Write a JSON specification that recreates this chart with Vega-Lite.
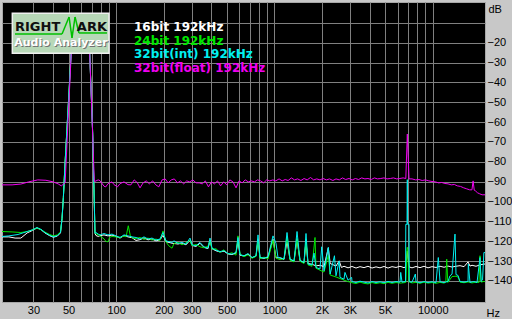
{
 "$schema": "https://vega.github.io/schema/vega-lite/v6.json",
 "width": 483, "height": 300,
 "autosize": {"type": "none"},
 "padding": {"left": 2, "top": 2, "right": 27, "bottom": 17},
 "background": "#c8c8c8",
 "config": {"view": {"fill": "#000000", "stroke": "#a8a8a8", "strokeWidth": 1}, "font": "Liberation Sans",
  "axis": {"grid": true, "gridColor": "#808080", "gridOpacity": 1, "gridWidth": 1, "ticks": false, "domain": false, "labelPadding": 2, "labelFontSize": 11, "labelColor": "#000000", "labelFont": "Liberation Sans", "labelOverlap": false, "labelFlush": false, "titleFontWeight": "normal", "titleFontSize": 11, "titleFont": "Liberation Sans", "titleColor": "#000000"},
  "axisY": {"titleAngle": 0, "titleX": 3, "titleY": 10, "titleAlign": "left", "titleBaseline": "alphabetic", "labelBaseline": "middle"},
  "axisX": {"titleX": 484, "titleY": 14, "titleAlign": "left", "titleBaseline": "alphabetic"}},
 "datasets": {
  "w": [{"f":19,"d":-117.8},{"f":21,"d":-117.8},{"f":23,"d":-118.4},{"f":25,"d":-118.4},{"f":27.4,"d":-115.8},{"f":29.5,"d":-114.6},{"f":31.6,"d":-113.3},{"f":33.5,"d":-114.2},{"f":35.5,"d":-115.8},{"f":38,"d":-117.2},{"f":40.1,"d":-118},{"f":42.5,"d":-117.4},{"f":44.5,"d":-115.8},{"f":45.5,"d":-108.6},{"f":46.4,"d":-98},{"f":47.6,"d":-80},{"f":52.4,"d":-20},{"f":55,"d":-10},{"f":58,"d":-7},{"f":62,"d":-7},{"f":65,"d":-10},{"f":67.7,"d":-20},{"f":71.1,"d":-66},{"f":73.5,"d":-116},{"f":74.6,"d":-117.1},{"f":77,"d":-117.6},{"f":79.1,"d":-117.2},{"f":83.8,"d":-116.8},{"f":88.8,"d":-117.3},{"f":94.1,"d":-116.9},{"f":99.8,"d":-117.6},{"f":105.8,"d":-118.4},{"f":112.1,"d":-117.2},{"f":118.8,"d":-117.8},{"f":126,"d":-118.2},{"f":133.5,"d":-119.6},{"f":141.5,"d":-119.2},{"f":149.9,"d":-118.3},{"f":159,"d":-119.3},{"f":168.4,"d":-118.9},{"f":178.5,"d":-119.8},{"f":189.3,"d":-119.3},{"f":197.7,"d":-117},{"f":206.5,"d":-120.2},{"f":225.4,"d":-121},{"f":246,"d":-121.4},{"f":260.6,"d":-120.9},{"f":276.3,"d":-121.8},{"f":292.8,"d":-119.5},{"f":301.5,"d":-122.1},{"f":319.6,"d":-122.6},{"f":338.6,"d":-121},{"f":358.9,"d":-123.1},{"f":380.4,"d":-123.7},{"f":391.8,"d":-119.8},{"f":403.2,"d":-123.8},{"f":427.4,"d":-124.8},{"f":453,"d":-125.4},{"f":480.2,"d":-125},{"f":509,"d":-126.4},{"f":539.5,"d":-126.7},{"f":571.9,"d":-125.9},{"f":588.6,"d":-120},{"f":606.1,"d":-127},{"f":642.4,"d":-127.5},{"f":681,"d":-126.5},{"f":721.8,"d":-128.3},{"f":765.1,"d":-127.5},{"f":787.6,"d":-119.5},{"f":810.7,"d":-128.3},{"f":859.4,"d":-128.6},{"f":910.9,"d":-128},{"f":979.6,"d":-119},{"f":1023,"d":-128.3},{"f":1085,"d":-128.4},{"f":1150,"d":-129.1},{"f":1201,"d":-120},{"f":1255,"d":-129.2},{"f":1330,"d":-130},{"f":1389,"d":-119},{"f":1451,"d":-129.8},{"f":1538,"d":-130.8},{"f":1583,"d":-120},{"f":1630,"d":-131.2},{"f":1728,"d":-131.6},{"f":1831,"d":-132.4},{"f":1940,"d":-132.1},{"f":2057,"d":-132.8},{"f":2190,"d":-123.3},{"f":2250,"d":-131.2},{"f":2449,"d":-132.5},{"f":2565,"d":-129.9},{"f":2650,"d":-133.2},{"f":2752,"d":-132.6},{"f":2918,"d":-133.4},{"f":3091,"d":-132.7},{"f":3277,"d":-133.5},{"f":3473,"d":-132.8},{"f":3682,"d":-133.3},{"f":3902,"d":-132.6},{"f":4136,"d":-133.5},{"f":4384,"d":-132.9},{"f":4646,"d":-133.4},{"f":4924,"d":-132.7},{"f":5221,"d":-133.5},{"f":5533,"d":-132.8},{"f":5864,"d":-133.2},{"f":6215,"d":-132.6},{"f":6587,"d":-133.3},{"f":6762,"d":-132.8},{"f":6912,"d":-125},{"f":7085,"d":-132.9},{"f":7401,"d":-133.4},{"f":7845,"d":-132.7},{"f":8316,"d":-133.3},{"f":8814,"d":-132.6},{"f":9341,"d":-133.4},{"f":9902,"d":-132.8},{"f":10496,"d":-133.2},{"f":11126,"d":-132.6},{"f":11790,"d":-133.1},{"f":12496,"d":-132.5},{"f":13245,"d":-133},{"f":14037,"d":-132.6},{"f":14880,"d":-132.3},{"f":15772,"d":-132.8},{"f":16718,"d":-130.4},{"f":17200,"d":-132.5},{"f":17716,"d":-132.1},{"f":18778,"d":-132.6},{"f":19904,"d":-131.9},{"f":21094,"d":-131.5},{"f":21400,"d":-131.5}],
  "g": [{"f":19,"d":-115.1},{"f":22,"d":-115.3},{"f":25,"d":-115.6},{"f":27.4,"d":-115.1},{"f":29.5,"d":-114.3},{"f":31.6,"d":-113.3},{"f":33.5,"d":-114.2},{"f":35.5,"d":-115.4},{"f":38,"d":-116.6},{"f":40.1,"d":-117.3},{"f":42.5,"d":-116.8},{"f":44.5,"d":-115.3},{"f":45.5,"d":-108.6},{"f":46.4,"d":-98},{"f":47.6,"d":-80},{"f":52.4,"d":-20},{"f":55,"d":-10},{"f":58,"d":-7},{"f":62,"d":-7},{"f":65,"d":-10},{"f":67.7,"d":-20},{"f":71.1,"d":-66},{"f":73.5,"d":-116},{"f":74.6,"d":-116.1},{"f":77,"d":-116.8},{"f":79.1,"d":-117.3},{"f":83.8,"d":-118.8},{"f":86,"d":-120},{"f":88.8,"d":-120.3},{"f":91,"d":-118},{"f":94.1,"d":-117.6},{"f":99.8,"d":-117.8},{"f":105.8,"d":-118.1},{"f":112.1,"d":-117.3},{"f":115.5,"d":-117.8},{"f":119.3,"d":-112.2},{"f":123,"d":-117.3},{"f":126,"d":-118.3},{"f":133.5,"d":-118.6},{"f":141.5,"d":-118.1},{"f":149.9,"d":-119.1},{"f":159,"d":-118.4},{"f":168.4,"d":-119.4},{"f":178.5,"d":-118.9},{"f":189.3,"d":-119.6},{"f":197.7,"d":-114.8},{"f":206.5,"d":-120.3},{"f":215,"d":-122.3},{"f":225.4,"d":-123.5},{"f":232,"d":-121.1},{"f":246,"d":-120.6},{"f":260.6,"d":-121.8},{"f":276.3,"d":-120.8},{"f":292.8,"d":-119.5},{"f":301.5,"d":-122.3},{"f":319.6,"d":-121.6},{"f":338.6,"d":-122.8},{"f":358.9,"d":-123.3},{"f":380.4,"d":-122.5},{"f":391.8,"d":-119.5},{"f":403.2,"d":-124},{"f":427.4,"d":-123.8},{"f":453,"d":-125.6},{"f":480.2,"d":-124.3},{"f":509,"d":-126.4},{"f":539.5,"d":-125.8},{"f":571.9,"d":-127},{"f":588.6,"d":-117.3},{"f":606.1,"d":-126.4},{"f":642.4,"d":-127.8},{"f":681,"d":-126.8},{"f":721.8,"d":-128.6},{"f":765.1,"d":-127.6},{"f":787.6,"d":-119},{"f":810.7,"d":-128.8},{"f":859.4,"d":-128},{"f":910.9,"d":-128.9},{"f":979.6,"d":-119.5},{"f":1023,"d":-128.5},{"f":1085,"d":-129.3},{"f":1150,"d":-128.8},{"f":1201,"d":-118},{"f":1255,"d":-129.6},{"f":1330,"d":-130.4},{"f":1389,"d":-118.5},{"f":1451,"d":-130.1},{"f":1538,"d":-131.2},{"f":1583,"d":-119},{"f":1630,"d":-131.9},{"f":1728,"d":-132.6},{"f":1805,"d":-118.1},{"f":1831,"d":-133.6},{"f":1940,"d":-134.6},{"f":2057,"d":-135.5},{"f":2190,"d":-127},{"f":2250,"d":-137},{"f":2449,"d":-138},{"f":2596,"d":-138.8},{"f":2752,"d":-139.6},{"f":2918,"d":-140.3},{"f":3091,"d":-140.9},{"f":3277,"d":-141.3},{"f":3473,"d":-140.6},{"f":3682,"d":-141.2},{"f":3902,"d":-141.5},{"f":4136,"d":-140.8},{"f":4384,"d":-141.3},{"f":4646,"d":-140.9},{"f":4924,"d":-141.4},{"f":5221,"d":-140.7},{"f":5533,"d":-141.2},{"f":5864,"d":-140.8},{"f":6215,"d":-141.1},{"f":6587,"d":-140.9},{"f":6762,"d":-140.7},{"f":6880,"d":-124},{"f":6912,"d":-123},{"f":6943,"d":-124},{"f":7085,"d":-140.5},{"f":7401,"d":-141},{"f":7845,"d":-140.7},{"f":8316,"d":-141.2},{"f":8814,"d":-140.6},{"f":9341,"d":-141.1},{"f":9902,"d":-140.8},{"f":10496,"d":-141.2},{"f":11126,"d":-140.7},{"f":11790,"d":-141.1},{"f":12100,"d":-140.6},{"f":12263,"d":-129},{"f":12450,"d":-140.8},{"f":13245,"d":-137.8},{"f":14037,"d":-137.6},{"f":14450,"d":-138},{"f":14880,"d":-140.6},{"f":15772,"d":-140.9},{"f":16718,"d":-140.5},{"f":17716,"d":-141},{"f":18778,"d":-140.6},{"f":19600,"d":-140.8},{"f":19904,"d":-127.3},{"f":20200,"d":-140.6},{"f":21094,"d":-140.2},{"f":21400,"d":-140.4}],
  "c": [{"f":19,"d":-117.6},{"f":21,"d":-117.3},{"f":24,"d":-116.6},{"f":27.4,"d":-115.1},{"f":29.5,"d":-114.3},{"f":31.6,"d":-113.1},{"f":33.5,"d":-114},{"f":35.5,"d":-115.6},{"f":38,"d":-117},{"f":40.1,"d":-117.8},{"f":42.5,"d":-117.2},{"f":44.5,"d":-115.6},{"f":45.5,"d":-108.6},{"f":46.4,"d":-98},{"f":47.6,"d":-80},{"f":52.4,"d":-20},{"f":55,"d":-10},{"f":58,"d":-7},{"f":62,"d":-7},{"f":65,"d":-10},{"f":67.7,"d":-20},{"f":71.1,"d":-66},{"f":73.5,"d":-116},{"f":74.6,"d":-115.6},{"f":77,"d":-116.4},{"f":79.1,"d":-116.8},{"f":83.8,"d":-116.1},{"f":88.8,"d":-116.8},{"f":94.1,"d":-116.4},{"f":99.8,"d":-117.3},{"f":105.8,"d":-118.1},{"f":112.1,"d":-116.8},{"f":118.8,"d":-117.3},{"f":126,"d":-117.8},{"f":133.5,"d":-118.1},{"f":141.5,"d":-118.9},{"f":149.9,"d":-117.8},{"f":159,"d":-118.9},{"f":168.4,"d":-118.4},{"f":178.5,"d":-119.4},{"f":189.3,"d":-118.9},{"f":197.7,"d":-115.6},{"f":206.5,"d":-119.8},{"f":225.4,"d":-120.6},{"f":232,"d":-119.8},{"f":246,"d":-121.1},{"f":260.6,"d":-120.6},{"f":276.3,"d":-121.5},{"f":292.8,"d":-118.4},{"f":301.5,"d":-121.8},{"f":319.6,"d":-122.3},{"f":338.6,"d":-120.6},{"f":358.9,"d":-122.8},{"f":380.4,"d":-123.5},{"f":391.8,"d":-118.4},{"f":403.2,"d":-123.5},{"f":427.4,"d":-124.5},{"f":453,"d":-125.2},{"f":480.2,"d":-124.8},{"f":509,"d":-126.2},{"f":539.5,"d":-126.5},{"f":571.9,"d":-125.6},{"f":588.6,"d":-118.1},{"f":606.1,"d":-126.8},{"f":642.4,"d":-127.3},{"f":681,"d":-126.2},{"f":721.8,"d":-128.2},{"f":765.1,"d":-127.3},{"f":787.6,"d":-116.8},{"f":810.7,"d":-128.2},{"f":859.4,"d":-128.5},{"f":910.9,"d":-127.8},{"f":979.6,"d":-117.3},{"f":1023,"d":-121},{"f":1053,"d":-128.2},{"f":1085,"d":-128.2},{"f":1150,"d":-129},{"f":1201,"d":-115.6},{"f":1255,"d":-129},{"f":1330,"d":-129.9},{"f":1389,"d":-115.1},{"f":1451,"d":-129.6},{"f":1538,"d":-130.7},{"f":1583,"d":-116.1},{"f":1630,"d":-131.5},{"f":1728,"d":-131.9},{"f":1779,"d":-126},{"f":1831,"d":-133.2},{"f":1940,"d":-134},{"f":1990,"d":-122.8},{"f":2057,"d":-134.9},{"f":2190,"d":-123.1},{"f":2250,"d":-136.5},{"f":2395,"d":-127.3},{"f":2449,"d":-137.4},{"f":2565,"d":-129.9},{"f":2596,"d":-138.2},{"f":2752,"d":-139.1},{"f":2790,"d":-135.7},{"f":2918,"d":-139.6},{"f":3075,"d":-138.2},{"f":3091,"d":-140.3},{"f":3277,"d":-140.8},{"f":3473,"d":-140.1},{"f":3682,"d":-140.6},{"f":3902,"d":-141},{"f":4136,"d":-140.3},{"f":4384,"d":-140.8},{"f":4646,"d":-140.4},{"f":4924,"d":-140.9},{"f":5221,"d":-140.2},{"f":5533,"d":-140.8},{"f":5864,"d":-140.3},{"f":6215,"d":-140.6},{"f":6280,"d":-135.7},{"f":6400,"d":-140.6},{"f":6587,"d":-140.4},{"f":6732,"d":-140.3},{"f":6762,"d":-111.5},{"f":6882,"d":-111.5},{"f":6912,"d":-89},{"f":6943,"d":-111.5},{"f":7085,"d":-111.5},{"f":7116,"d":-140.3},{"f":7401,"d":-140.6},{"f":7770,"d":-136.5},{"f":7845,"d":-140.4},{"f":8316,"d":-140.9},{"f":8814,"d":-140.3},{"f":9341,"d":-140.8},{"f":9902,"d":-140.4},{"f":10496,"d":-140.9},{"f":10850,"d":-128.2},{"f":11126,"d":-140.4},{"f":11790,"d":-140.8},{"f":12496,"d":-140.2},{"f":12860,"d":-137.4},{"f":13245,"d":-136.6},{"f":13830,"d":-116.4},{"f":14037,"d":-136.8},{"f":14450,"d":-137.2},{"f":14880,"d":-140.3},{"f":15772,"d":-140.6},{"f":16718,"d":-140.2},{"f":16790,"d":-131.5},{"f":17200,"d":-140.7},{"f":18230,"d":-140.3},{"f":19050,"d":-140.8},{"f":19904,"d":-128.2},{"f":20230,"d":-140.2},{"f":20650,"d":-139.5},{"f":21050,"d":-125.7},{"f":21400,"d":-125.7}],
  "m": [{"f":19,"d":-91.6},{"f":22,"d":-91.6},{"f":25,"d":-91.2},{"f":28,"d":-90.1},{"f":32,"d":-89.1},{"f":36,"d":-89.3},{"f":40,"d":-90.1},{"f":43,"d":-91.1},{"f":45,"d":-92.1},{"f":47.6,"d":-90.6},{"f":52.4,"d":-20},{"f":55,"d":-10},{"f":58,"d":-7},{"f":62,"d":-7},{"f":65,"d":-10},{"f":67.7,"d":-20},{"f":72.8,"d":-90},{"f":74.6,"d":-89.6},{"f":77,"d":-89.1},{"f":79.1,"d":-89.5},{"f":83.8,"d":-92.3},{"f":86,"d":-92.6},{"f":88.8,"d":-91},{"f":94.1,"d":-90.1},{"f":97,"d":-91.5},{"f":102,"d":-92.6},{"f":105.8,"d":-91},{"f":112.1,"d":-90.1},{"f":118.8,"d":-91.5},{"f":124,"d":-91.6},{"f":130,"d":-89.1},{"f":136,"d":-90.5},{"f":141.5,"d":-93.1},{"f":148,"d":-90.6},{"f":155,"d":-89.6},{"f":162,"d":-91.1},{"f":170,"d":-89.6},{"f":178,"d":-91.6},{"f":186,"d":-92.6},{"f":195,"d":-89.1},{"f":204,"d":-88.6},{"f":213,"d":-90.6},{"f":223,"d":-89.1},{"f":233,"d":-88.6},{"f":244,"d":-90.6},{"f":255,"d":-89.6},{"f":267,"d":-91.1},{"f":279,"d":-89.6},{"f":292,"d":-90.1},{"f":305,"d":-89.1},{"f":320,"d":-90.6},{"f":335,"d":-90.6},{"f":350,"d":-91.1},{"f":366,"d":-89.6},{"f":383,"d":-92.6},{"f":400,"d":-90.1},{"f":418,"d":-91.1},{"f":437,"d":-89.6},{"f":457,"d":-92.1},{"f":478,"d":-90.1},{"f":500,"d":-91.6},{"f":523,"d":-89.1},{"f":547,"d":-90.1},{"f":572,"d":-93.1},{"f":598,"d":-89.6},{"f":625,"d":-90.6},{"f":654,"d":-89.1},{"f":684,"d":-90.1},{"f":715,"d":-89.6},{"f":748,"d":-90.1},{"f":782,"d":-89.1},{"f":818,"d":-89.6},{"f":855,"d":-90.6},{"f":894,"d":-89.1},{"f":935,"d":-89.6},{"f":978,"d":-89.1},{"f":1020,"d":-89.6},{"f":1070,"d":-88.6},{"f":1120,"d":-89.6},{"f":1170,"d":-88.9},{"f":1220,"d":-89.4},{"f":1280,"d":-88.1},{"f":1340,"d":-89.1},{"f":1400,"d":-88.6},{"f":1470,"d":-89.4},{"f":1540,"d":-88.4},{"f":1610,"d":-89.1},{"f":1690,"d":-87.9},{"f":1770,"d":-89.1},{"f":1850,"d":-88.6},{"f":1940,"d":-89.1},{"f":2030,"d":-88.4},{"f":2130,"d":-89.1},{"f":2230,"d":-88.6},{"f":2340,"d":-89.4},{"f":2450,"d":-88.6},{"f":2570,"d":-89.1},{"f":2690,"d":-88.1},{"f":2820,"d":-88.9},{"f":2960,"d":-88.4},{"f":3100,"d":-89.1},{"f":3250,"d":-88.4},{"f":3400,"d":-88.9},{"f":3560,"d":-88.1},{"f":3730,"d":-88.6},{"f":3900,"d":-88.4},{"f":4090,"d":-88.9},{"f":4280,"d":-88.1},{"f":4480,"d":-88.6},{"f":4700,"d":-88.4},{"f":4920,"d":-88.1},{"f":5150,"d":-88.6},{"f":5400,"d":-88.4},{"f":5650,"d":-88.1},{"f":5920,"d":-88.6},{"f":6200,"d":-88.4},{"f":6500,"d":-88.1},{"f":6762,"d":-88.4},{"f":6912,"d":-66},{"f":7085,"d":-88.6},{"f":7400,"d":-88.6},{"f":7800,"d":-89.1},{"f":8180,"d":-88.9},{"f":8580,"d":-89.4},{"f":9000,"d":-89.1},{"f":9450,"d":-89.6},{"f":9900,"d":-89.9},{"f":10400,"d":-90.1},{"f":10900,"d":-90.6},{"f":11400,"d":-90.4},{"f":11950,"d":-90.9},{"f":12500,"d":-91.1},{"f":13100,"d":-91.6},{"f":13700,"d":-91.4},{"f":14300,"d":-92.1},{"f":15000,"d":-92.4},{"f":15700,"d":-93.1},{"f":16400,"d":-93.6},{"f":17100,"d":-94.1},{"f":17700,"d":-94.1},{"f":18000,"d":-89.6},{"f":18300,"d":-94.3},{"f":18600,"d":-94.6},{"f":19200,"d":-95.6},{"f":19800,"d":-96.1},{"f":20500,"d":-96.6},{"f":21400,"d":-96.6}]
 },
 "layer": [
  {"data": {"name": "w"}, "mark": {"type": "line", "strokeWidth": 1, "clip": true},
   "encoding": {
    "x": {"field": "f", "type": "quantitative", "scale": {"type": "log", "domain": [19, 21400], "nice": false},
     "axis": {"orient": "bottom", "values": [30,40,50,60,70,80,90,100,200,300,400,500,600,700,800,900,1000,2000,3000,4000,5000,6000,7000,8000,9000,10000],
      "labelExpr": "datum.value==2000?'2K':datum.value==3000?'3K':datum.value==5000?'5K':(datum.value==30||datum.value==50||datum.value==100||datum.value==200||datum.value==300||datum.value==500||datum.value==1000||datum.value==10000)?''+datum.value:''", "title": "Hz"}},
    "y": {"field": "d", "type": "quantitative", "scale": {"domain": [-150.6, 0.5], "nice": false, "zero": false},
     "axis": {"orient": "right", "values": [-10,-20,-30,-40,-50,-60,-70,-80,-90,-100,-110,-120,-130,-140], "labelExpr": "datum.value<=-20?datum.label:''", "title": "dB"}},
    "color": {"datum": "16bit 192kHz", "type": "nominal",
     "scale": {"domain": ["16bit 192kHz", "24bit 192kHz", "32bit(int) 192kHz", "32bit(float) 192kHz"], "range": ["#ffffff", "#00e800", "#00f0f0", "#f000f0"]},
     "legend": {"title": null, "orient": "none", "legendX": 120, "legendY": 19, "symbolSize": 0, "symbolOpacity": 0, "symbolStrokeWidth": 0, "labelOffset": 0, "labelFont": "DejaVu Sans", "labelFontWeight": "bold", "labelFontSize": 12, "labelColor": {"expr": "scale('color', datum.value)"}, "rowPadding": 1.5, "padding": 0, "labelLimit": 300}}}},
  {"data": {"name": "g"}, "mark": {"type": "line", "strokeWidth": 1, "clip": true}, "encoding": {"x": {"field": "f", "type": "quantitative"}, "y": {"field": "d", "type": "quantitative", "axis": {"orient": "right", "values": [-10,-20,-30,-40,-50,-60,-70,-80,-90,-100,-110,-120,-130,-140], "labelExpr": "datum.value<=-20?datum.label:''", "title": "dB"}}, "color": {"datum": "24bit 192kHz", "type": "nominal"}}},
  {"data": {"name": "c"}, "mark": {"type": "line", "strokeWidth": 1, "clip": true}, "encoding": {"x": {"field": "f", "type": "quantitative"}, "y": {"field": "d", "type": "quantitative", "axis": {"orient": "right", "values": [-10,-20,-30,-40,-50,-60,-70,-80,-90,-100,-110,-120,-130,-140], "labelExpr": "datum.value<=-20?datum.label:''", "title": "dB"}}, "color": {"datum": "32bit(int) 192kHz", "type": "nominal"}}},
  {"data": {"name": "m"}, "mark": {"type": "line", "strokeWidth": 1, "clip": true}, "encoding": {"x": {"field": "f", "type": "quantitative"}, "y": {"field": "d", "type": "quantitative", "axis": {"orient": "right", "values": [-10,-20,-30,-40,-50,-60,-70,-80,-90,-100,-110,-120,-130,-140], "labelExpr": "datum.value<=-20?datum.label:''", "title": "dB"}}, "color": {"datum": "32bit(float) 192kHz", "type": "nominal"}}},
  {"data": {"values": [{"k": "logo"}]}, "mark": {"type": "rect", "fill": "#b8d8b8", "stroke": "#f0f0f0", "strokeWidth": 1.5},
   "encoding": {"x": {"datum": 22.08, "type": "quantitative"}, "x2": {"datum": 90.1}, "y": {"datum": -5.18, "type": "quantitative", "axis": {"orient": "right", "values": [-10,-20,-30,-40,-50,-60,-70,-80,-90,-100,-110,-120,-130,-140], "labelExpr": "datum.value<=-20?datum.label:''", "title": "dB"}}, "y2": {"datum": -25.3}}},
  {"data": {"values": [{"k": "logo"}]}, "mark": {"type": "rule", "color": "#00c000", "strokeWidth": 1.5},
   "encoding": {"x": {"datum": 22.96, "type": "quantitative"}, "x2": {"datum": 45.5}, "y": {"datum": -15.6, "type": "quantitative", "axis": {"orient": "right", "values": [-10,-20,-30,-40,-50,-60,-70,-80,-90,-100,-110,-120,-130,-140], "labelExpr": "datum.value<=-20?datum.label:''", "title": "dB"}}, "y2": {"datum": -15.6}}},
  {"data": {"values": [{"k": "logo"}]}, "mark": {"type": "rule", "color": "#00c000", "strokeWidth": 1.5},
   "encoding": {"x": {"datum": 45.5, "type": "quantitative"}, "x2": {"datum": 50.4}, "y": {"datum": -15.6, "type": "quantitative", "axis": {"orient": "right", "values": [-10,-20,-30,-40,-50,-60,-70,-80,-90,-100,-110,-120,-130,-140], "labelExpr": "datum.value<=-20?datum.label:''", "title": "dB"}}, "y2": {"datum": -7.05}}},
  {"data": {"values": [{"k": "logo"}]}, "mark": {"type": "rule", "color": "#00c000", "strokeWidth": 1.5},
   "encoding": {"x": {"datum": 50.4, "type": "quantitative"}, "x2": {"datum": 52.6}, "y": {"datum": -7.05, "type": "quantitative", "axis": {"orient": "right", "values": [-10,-20,-30,-40,-50,-60,-70,-80,-90,-100,-110,-120,-130,-140], "labelExpr": "datum.value<=-20?datum.label:''", "title": "dB"}}, "y2": {"datum": -17.6}}},
  {"data": {"values": [{"k": "logo"}]}, "mark": {"type": "rule", "color": "#00c000", "strokeWidth": 1.5},
   "encoding": {"x": {"datum": 52.6, "type": "quantitative"}, "x2": {"datum": 55.0}, "y": {"datum": -17.6, "type": "quantitative", "axis": {"orient": "right", "values": [-10,-20,-30,-40,-50,-60,-70,-80,-90,-100,-110,-120,-130,-140], "labelExpr": "datum.value<=-20?datum.label:''", "title": "dB"}}, "y2": {"datum": -7.05}}},
  {"data": {"values": [{"k": "logo"}]}, "mark": {"type": "rule", "color": "#00c000", "strokeWidth": 1.5},
   "encoding": {"x": {"datum": 55.0, "type": "quantitative"}, "x2": {"datum": 58.2}, "y": {"datum": -7.05, "type": "quantitative", "axis": {"orient": "right", "values": [-10,-20,-30,-40,-50,-60,-70,-80,-90,-100,-110,-120,-130,-140], "labelExpr": "datum.value<=-20?datum.label:''", "title": "dB"}}, "y2": {"datum": -15.1}}},
  {"data": {"values": [{"k": "logo"}]}, "mark": {"type": "rule", "color": "#00c000", "strokeWidth": 1.5},
   "encoding": {"x": {"datum": 58.2, "type": "quantitative"}, "x2": {"datum": 87.5}, "y": {"datum": -15.1, "type": "quantitative", "axis": {"orient": "right", "values": [-10,-20,-30,-40,-50,-60,-70,-80,-90,-100,-110,-120,-130,-140], "labelExpr": "datum.value<=-20?datum.label:''", "title": "dB"}}, "y2": {"datum": -15.1}}},
  {"data": {"values": [{"k": "logo"}]}, "mark": {"type": "text", "text": "RIGHT", "font": "DejaVu Sans", "fontWeight": "bold", "fontSize": 13, "align": "left", "baseline": "alphabetic", "color": "#101010"},
   "encoding": {"x": {"datum": 22.96, "type": "quantitative"}, "y": {"datum": -14.1, "type": "quantitative", "axis": {"orient": "right", "values": [-10,-20,-30,-40,-50,-60,-70,-80,-90,-100,-110,-120,-130,-140], "labelExpr": "datum.value<=-20?datum.label:''", "title": "dB"}}}},
  {"data": {"values": [{"k": "logo"}]}, "mark": {"type": "text", "text": "ARK", "font": "DejaVu Sans", "fontWeight": "bold", "fontSize": 13, "align": "right", "baseline": "alphabetic", "color": "#101010"},
   "encoding": {"x": {"datum": 87.5, "type": "quantitative"}, "y": {"datum": -14.1, "type": "quantitative", "axis": {"orient": "right", "values": [-10,-20,-30,-40,-50,-60,-70,-80,-90,-100,-110,-120,-130,-140], "labelExpr": "datum.value<=-20?datum.label:''", "title": "dB"}}}},
  {"data": {"values": [{"k": "logo"}]}, "mark": {"type": "text", "text": "Audio Analyzer", "font": "DejaVu Sans", "fontWeight": "bold", "fontSize": 11, "align": "center", "baseline": "middle", "color": "#707070", "dx": 1, "dy": 1},
   "encoding": {"x": {"datum": 44.8, "type": "quantitative"}, "y": {"datum": -20.4, "type": "quantitative", "axis": {"orient": "right", "values": [-10,-20,-30,-40,-50,-60,-70,-80,-90,-100,-110,-120,-130,-140], "labelExpr": "datum.value<=-20?datum.label:''", "title": "dB"}}}},
  {"data": {"values": [{"k": "logo"}]}, "mark": {"type": "text", "text": "Audio Analyzer", "font": "DejaVu Sans", "fontWeight": "bold", "fontSize": 11, "align": "center", "baseline": "middle", "color": "#ffffff"},
   "encoding": {"x": {"datum": 44.8, "type": "quantitative"}, "y": {"datum": -20.4, "type": "quantitative", "axis": {"orient": "right", "values": [-10,-20,-30,-40,-50,-60,-70,-80,-90,-100,-110,-120,-130,-140], "labelExpr": "datum.value<=-20?datum.label:''", "title": "dB"}}}}
 ]
}
